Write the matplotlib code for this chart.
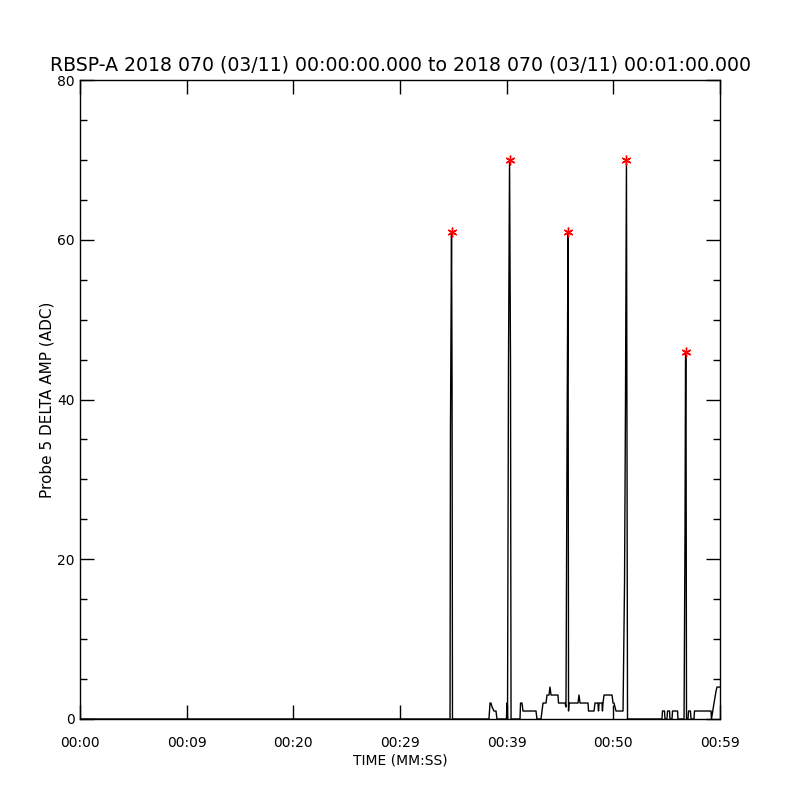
import numpy as np
import matplotlib
matplotlib.use('Agg')
import matplotlib.pyplot as plt

# time (s after 00:00:00) and probe 5 delta amplitude (ADC)
time_s = [0.0, 34.69, 34.73, 34.83, 34.88, 34.92,
          38.34, 38.44, 38.53, 38.63, 38.81, 39.00, 39.09,
          39.98, 40.03, 40.08, 40.17, 40.27, 40.36, 40.41,
          41.25, 41.30, 41.44, 41.53, 42.75, 42.84,
          43.22, 43.31, 43.41, 43.69, 43.78, 43.97, 44.06, 44.16, 44.81, 44.86,
          45.47, 45.56, 45.66, 45.75, 45.80, 45.84,
          46.69, 46.78, 46.88, 47.63, 47.67, 48.19, 48.28, 48.56, 48.61, 48.66,
          48.94, 48.98, 49.03, 49.13, 49.88, 49.97, 50.06, 50.25,
          50.91, 51.05, 51.14, 51.23, 51.33,
          54.56, 54.61, 54.80, 54.84, 55.03, 55.08, 55.27, 55.31,
          55.50, 55.55, 56.02, 56.06,
          56.63, 56.72, 56.77, 56.81, 56.86,
          57.00, 57.05, 57.23, 57.28, 57.56, 57.61, 59.16, 59.20,
          59.44, 59.63, 59.72, 60.0]
amp = [0, 0, 36, 61, 42, 0,
       0, 2, 2, 1.5, 1, 1, 0,
       0, 2, 0, 44, 70, 44.5, 0,
       0, 2, 2, 1, 1, 0,
       0, 1, 2, 2, 3, 3, 4, 3, 3, 2,
       2, 1.5, 34, 61, 1, 2,
       2, 3, 2, 2, 1, 1, 2, 2, 1, 2,
       2, 1, 2, 3, 3, 2, 2, 1,
       1, 17, 40, 70, 0,
       0, 1, 1, 0, 0, 1, 1, 0,
       0, 1, 1, 0,
       0, 23.5, 46, 45, 0,
       0, 1, 1, 0, 0, 1, 1, 0,
       2, 3.5, 4, 4]

# peaks marked with red asterisks
peak_t = [34.83, 40.27, 45.75, 51.23, 56.77]
peak_amp = [61, 70, 61, 70, 46]

xticks = [0, 10, 20, 30, 40, 50, 60]
xtick_labels = ['00:00', '00:09', '00:20', '00:29', '00:39', '00:50', '00:59']
yticks = [0, 20, 40, 60, 80]

fig = plt.figure(figsize=(8, 8), dpi=100)
ax = fig.add_axes([0.1, 0.10125, 0.8, 0.79875])

ax.plot(time_s, amp, color='black', lw=1.0)
ax.plot(peak_t, peak_amp, ls='none', marker=(6, 2, 0), color='red',
        markersize=7, mew=1.0)

ax.set_xlim(0, 60)
ax.set_ylim(0, 80)
ax.set_xticks(xticks)
ax.set_xticklabels(xtick_labels)
ax.set_yticks(yticks)
ax.set_yticks(np.arange(0, 81, 5), minor=True)

ax.tick_params(axis='both', which='major', direction='in', length=10, width=1,
               top=True, right=True, labelsize=10)
ax.tick_params(axis='y', which='minor', direction='in', length=5, width=1,
               left=True, right=True)
ax.tick_params(axis='x', which='major', pad=12)
ax.tick_params(axis='y', which='major', pad=4)
for s in ax.spines.values():
    s.set_linewidth(1)

ax.set_xlabel('TIME (MM:SS)', fontsize=10, labelpad=3)
ax.set_ylabel('Probe 5 DELTA AMP (ADC)', fontsize=11, labelpad=2)
ax.set_title('RBSP-A 2018 070 (03/11) 00:00:00.000 to 2018 070 (03/11) 00:01:00.000',
             fontsize=13.6, pad=7)

fig.savefig('out.png', dpi=100)
